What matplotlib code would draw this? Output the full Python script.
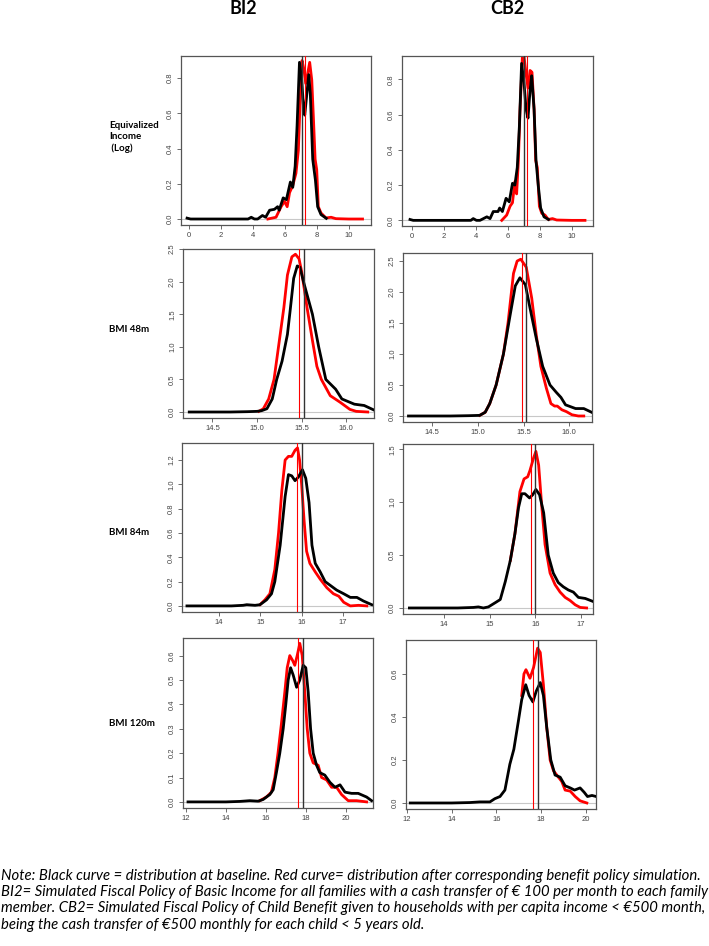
import numpy as np
import matplotlib
matplotlib.use('Agg')
import matplotlib.pyplot as plt

plt.rcParams['font.family'] = ['Lato', 'DejaVu Sans']

# ---- data (x, density) ----
# Equivalized income (log), BI2
inc_bi2_base_x = [-0.12, 0.1, 1, 2, 3, 3.7, 3.9, 4.1, 4.3, 4.6, 4.8, 5.05, 5.35, 5.55, 5.65, 5.9, 6.1, 6.35, 6.5, 6.65, 6.77, 6.92, 7.06, 7.17, 7.25, 7.38, 7.5, 7.6, 7.75, 7.92, 8.06, 8.27, 8.6]
inc_bi2_base_y = [0.005, 0.0, 0.0, 0.0, 0.0, 0.0, 0.01, 0.0, 0.0, 0.02, 0.01, 0.05, 0.055, 0.07, 0.05, 0.12, 0.11, 0.21, 0.18, 0.3, 0.53, 0.89, 0.79, 0.64, 0.59, 0.71, 0.82, 0.71, 0.34, 0.22, 0.07, 0.025, 0.004]
inc_bi2_sim_x = [4.94, 5.45, 5.77, 5.98, 6.15, 6.3, 6.5, 6.7, 6.85, 6.98, 7.08, 7.2, 7.31, 7.44, 7.56, 7.69, 7.8, 7.9, 8.0, 8.1, 8.27, 8.58, 8.9, 9.2, 10, 10.87]
inc_bi2_sim_y = [0.0, 0.01, 0.07, 0.1, 0.07, 0.15, 0.19, 0.26, 0.39, 0.71, 0.9, 0.85, 0.77, 0.83, 0.89, 0.79, 0.56, 0.34, 0.28, 0.07, 0.034, 0.006, 0.01, 0.002, 0.0, 0.0]
# Equivalized income (log), CB2
inc_cb2_base_x = [-0.1, 0.1, 1, 2, 3, 3.7, 3.85, 4.05, 4.27, 4.7, 4.9, 5.1, 5.4, 5.5, 5.67, 5.9, 6.1, 6.3, 6.45, 6.6, 6.73, 6.87, 7.02, 7.15, 7.27, 7.4, 7.5, 7.65, 7.77, 7.92, 8.06, 8.27, 8.55]
inc_cb2_base_y = [0.005, 0.0, 0.0, 0.0, 0.0, 0.0, 0.01, 0.0, 0.0, 0.02, 0.01, 0.05, 0.05, 0.07, 0.05, 0.125, 0.105, 0.21, 0.2, 0.3, 0.53, 0.89, 0.78, 0.63, 0.58, 0.74, 0.82, 0.63, 0.34, 0.19, 0.07, 0.02, 0.005]
inc_cb2_sim_x = [5.63, 5.94, 6.15, 6.3, 6.45, 6.56, 6.67, 6.77, 6.92, 7.02, 7.15, 7.27, 7.4, 7.52, 7.65, 7.75, 7.85, 7.98, 8.13, 8.33, 8.54, 8.8, 9.06, 10, 10.83]
inc_cb2_sim_y = [0.0, 0.03, 0.08, 0.1, 0.22, 0.15, 0.34, 0.62, 0.93, 0.93, 0.83, 0.75, 0.85, 0.84, 0.63, 0.34, 0.3, 0.08, 0.04, 0.03, 0.005, 0.01, 0.002, 0.0, 0.0]

# BMI 48m, BI2
b48_bi2_base_x = [14.24, 14.5, 14.7, 14.89, 15.0, 15.05, 15.11, 15.17, 15.22, 15.28, 15.34, 15.37, 15.41, 15.45, 15.48, 15.52, 15.57, 15.62, 15.69, 15.77, 15.88, 15.95, 16.09, 16.2, 16.31]
b48_bi2_base_y = [0.0, 0.0, 0.0, 0.005, 0.01, 0.02, 0.05, 0.2, 0.5, 0.78, 1.19, 1.55, 2.05, 2.24, 2.22, 2.0, 1.75, 1.5, 1.0, 0.5, 0.35, 0.2, 0.12, 0.1, 0.03]
b48_bi2_sim_x = [15.02, 15.07, 15.13, 15.19, 15.24, 15.3, 15.34, 15.39, 15.43, 15.47, 15.5, 15.56, 15.62, 15.67, 15.72, 15.82, 15.93, 16.04, 16.11, 16.24]
b48_bi2_sim_y = [0.01, 0.05, 0.2, 0.5, 1.0, 1.6, 2.1, 2.38, 2.42, 2.35, 2.15, 1.6, 1.1, 0.7, 0.5, 0.25, 0.15, 0.04, 0.01, 0.0]
# BMI 48m, CB2
b48_cb2_base_x = [14.24, 14.5, 14.7, 14.9, 15.02, 15.08, 15.13, 15.2, 15.28, 15.35, 15.41, 15.46, 15.52, 15.57, 15.64, 15.71, 15.79, 15.86, 15.91, 15.96, 16.07, 16.16, 16.26]
b48_cb2_base_y = [0.0, 0.0, 0.0, 0.005, 0.01, 0.06, 0.2, 0.5, 1.0, 1.6, 2.1, 2.23, 2.12, 1.75, 1.25, 0.8, 0.5, 0.38, 0.3, 0.18, 0.12, 0.12, 0.05]
b48_cb2_sim_x = [15.02, 15.08, 15.13, 15.2, 15.28, 15.33, 15.39, 15.43, 15.47, 15.53, 15.59, 15.64, 15.69, 15.75, 15.8, 15.84, 15.87, 15.92, 15.97, 16.03, 16.1, 16.16]
b48_cb2_sim_y = [0.01, 0.06, 0.2, 0.5, 1.0, 1.5, 2.3, 2.5, 2.53, 2.4, 1.9, 1.3, 0.8, 0.45, 0.2, 0.16, 0.16, 0.1, 0.07, 0.02, 0.0, 0.0]

# BMI 84m, BI2
b84_bi2_base_x = [13.22, 13.8, 14.3, 14.58, 14.67, 14.87, 14.99, 15.15, 15.27, 15.35, 15.48, 15.6, 15.68, 15.76, 15.84, 15.92, 16.02, 16.1, 16.18, 16.25, 16.33, 16.45, 16.57, 16.69, 16.85, 17.02, 17.18, 17.34, 17.5, 17.7]
b84_bi2_base_y = [0.0, 0.0, 0.0, 0.005, 0.01, 0.005, 0.01, 0.05, 0.1, 0.2, 0.5, 0.9, 1.08, 1.07, 1.03, 1.06, 1.12, 1.05, 0.85, 0.5, 0.35, 0.28, 0.2, 0.17, 0.13, 0.1, 0.07, 0.07, 0.04, 0.01]
b84_bi2_sim_x = [14.99, 15.11, 15.23, 15.35, 15.44, 15.52, 15.6, 15.68, 15.76, 15.84, 15.9, 15.95, 16.0, 16.06, 16.12, 16.2, 16.33, 16.45, 16.61, 16.77, 16.9, 17.02, 17.18, 17.38, 17.58]
b84_bi2_sim_y = [0.01, 0.05, 0.1, 0.3, 0.6, 0.95, 1.2, 1.23, 1.23, 1.28, 1.3, 1.2, 1.0, 0.7, 0.45, 0.35, 0.28, 0.22, 0.15, 0.1, 0.08, 0.03, 0.0, 0.005, 0.0]
# BMI 84m, CB2
b84_cb2_base_x = [13.24, 13.8, 14.3, 14.64, 14.75, 14.86, 14.97, 15.12, 15.23, 15.34, 15.45, 15.55, 15.63, 15.7, 15.77, 15.87, 15.94, 16.01, 16.09, 16.18, 16.28, 16.39, 16.5, 16.61, 16.72, 16.83, 16.94, 17.09, 17.27]
b84_cb2_base_y = [0.0, 0.0, 0.0, 0.005, 0.01, 0.0, 0.01, 0.05, 0.08, 0.25, 0.45, 0.7, 0.95, 1.08, 1.08, 1.04, 1.07, 1.12, 1.07, 0.9, 0.5, 0.33, 0.24, 0.2, 0.17, 0.15, 0.1, 0.09, 0.06]
b84_cb2_sim_x = [15.45, 15.55, 15.66, 15.75, 15.83, 15.88, 15.96, 16.01, 16.07, 16.14, 16.21, 16.32, 16.43, 16.54, 16.65, 16.76, 16.87, 16.98, 17.12]
b84_cb2_sim_y = [0.45, 0.7, 1.1, 1.22, 1.24, 1.3, 1.42, 1.48, 1.35, 0.95, 0.6, 0.33, 0.22, 0.15, 0.1, 0.07, 0.03, 0.005, 0.0]

# BMI 120m, BI2
b120_bi2_base_x = [12.1, 13, 14, 14.69, 15.19, 15.61, 15.86, 16.02, 16.19, 16.36, 16.52, 16.69, 16.86, 16.99, 17.11, 17.23, 17.36, 17.53, 17.69, 17.86, 17.99, 18.11, 18.23, 18.36, 18.53, 18.69, 18.94, 19.2, 19.45, 19.7, 19.95, 20.28, 20.61, 21.03, 21.28]
b120_bi2_base_y = [0.0, 0.0, 0.0, 0.002, 0.005, 0.003, 0.01, 0.02, 0.03, 0.05, 0.12, 0.2, 0.3, 0.4, 0.5, 0.55, 0.52, 0.47, 0.5, 0.56, 0.55, 0.45, 0.3, 0.2, 0.15, 0.12, 0.11, 0.08, 0.06, 0.07, 0.04, 0.035, 0.035, 0.02, 0.005]
b120_bi2_sim_x = [15.69, 16.02, 16.27, 16.44, 16.6, 16.77, 16.94, 17.06, 17.19, 17.33, 17.44, 17.56, 17.69, 17.81, 17.94, 18.06, 18.19, 18.36, 18.61, 18.78, 19.03, 19.28, 19.53, 19.78, 20.11, 20.53, 21.03]
b120_bi2_sim_y = [0.005, 0.02, 0.04, 0.1, 0.2, 0.32, 0.45, 0.55, 0.6, 0.58, 0.56, 0.6, 0.65, 0.6, 0.45, 0.3, 0.2, 0.16, 0.15, 0.1, 0.09, 0.06, 0.06, 0.03, 0.005, 0.005, 0.0]
# BMI 120m, CB2
b120_cb2_base_x = [12.15, 13, 14, 14.81, 15.26, 15.71, 15.93, 16.16, 16.38, 16.6, 16.78, 16.98, 17.13, 17.31, 17.46, 17.63, 17.78, 17.96, 18.1, 18.25, 18.43, 18.62, 18.85, 19.07, 19.3, 19.49, 19.74, 19.92, 20.07, 20.27, 20.46]
b120_cb2_base_y = [0.0, 0.0, 0.0, 0.002, 0.005, 0.005, 0.02, 0.03, 0.06, 0.18, 0.25, 0.38, 0.48, 0.55, 0.5, 0.47, 0.52, 0.56, 0.5, 0.35, 0.2, 0.13, 0.12, 0.08, 0.07, 0.06, 0.07, 0.05, 0.03, 0.035, 0.03]
b120_cb2_sim_x = [17.13, 17.23, 17.32, 17.5, 17.66, 17.84, 17.96, 18.1, 18.25, 18.4, 18.55, 18.77, 18.92, 19.07, 19.3, 19.52, 19.74, 20.04]
b120_cb2_sim_y = [0.5, 0.6, 0.62, 0.58, 0.63, 0.72, 0.7, 0.55, 0.35, 0.2, 0.15, 0.12, 0.1, 0.06, 0.055, 0.03, 0.01, 0.0]

# means (vertical lines): baseline, simulation
mean_base = [7.1, 7.02, 15.523, 15.53, 16.0, 16.0, 17.85, 17.86]
mean_sim = [7.27, 7.19, 15.467, 15.486, 15.88, 15.91, 17.58, 17.64]

col_titles = ['BI2', 'CB2']
row_labels = ['Equivalized\nIncome\n (Log)', 'BMI 48m', 'BMI 84m', 'BMI 120m']

curves = [
    (inc_bi2_base_x, inc_bi2_base_y, inc_bi2_sim_x, inc_bi2_sim_y),
    (inc_cb2_base_x, inc_cb2_base_y, inc_cb2_sim_x, inc_cb2_sim_y),
    (b48_bi2_base_x, b48_bi2_base_y, b48_bi2_sim_x, b48_bi2_sim_y),
    (b48_cb2_base_x, b48_cb2_base_y, b48_cb2_sim_x, b48_cb2_sim_y),
    (b84_bi2_base_x, b84_bi2_base_y, b84_bi2_sim_x, b84_bi2_sim_y),
    (b84_cb2_base_x, b84_cb2_base_y, b84_cb2_sim_x, b84_cb2_sim_y),
    (b120_bi2_base_x, b120_bi2_base_y, b120_bi2_sim_x, b120_bi2_sim_y),
    (b120_cb2_base_x, b120_cb2_base_y, b120_cb2_sim_x, b120_cb2_sim_y),
]

# panel boxes in pixels (left, top, right, bottom), limits and ticks
boxes = [(181, 56, 371, 225), (402, 56, 593, 226),
         (183, 249, 374, 418), (403, 253, 592, 422),
         (182, 443, 373, 612), (403, 444, 593, 614),
         (183, 638, 373, 808), (406, 640, 596, 809)]
xlims = [(-0.5, 11.4), (-0.6, 11.33), (14.17, 16.31), (14.18, 16.25),
         (13.1, 17.73), (13.1, 17.26), (11.85, 21.35), (11.96, 20.45)]
ylims = [(-0.034, 0.926), (-0.032, 0.932), (-0.092, 2.5), (-0.097, 2.63),
         (-0.05, 1.34), (-0.057, 1.55), (-0.025, 0.672), (-0.028, 0.758)]
xticks = [[0, 2, 4, 6, 8, 10]] * 2 + [[14.5, 15.0, 15.5, 16.0]] * 2 + [[14, 15, 16, 17]] * 2 + [[12, 14, 16, 18, 20]] * 2
yticks = [[0.0, 0.2, 0.4, 0.6, 0.8]] * 2 + [[0.0, 0.5, 1.0, 1.5, 2.0, 2.5]] * 2 + \
         [[0.0, 0.2, 0.4, 0.6, 0.8, 1.0, 1.2], [0.0, 0.5, 1.0, 1.5]] + \
         [[0.0, 0.1, 0.2, 0.3, 0.4, 0.5, 0.6], [0.0, 0.2, 0.4, 0.6]]
xfmt = ['%d', '%d', '%.1f', '%.1f', '%d', '%d', '%d', '%d']

W, H = 709, 946
fig = plt.figure(figsize=(W / 100, H / 100), dpi=100)

for i, (l, t, r, b) in enumerate(boxes):
    ax = fig.add_axes([l / W, 1 - b / H, (r - l) / W, (b - t) / H])
    bx, by, sx, sy = curves[i]
    ax.axhline(0, color='#c8c8c8', lw=0.8, zorder=1)
    ax.plot(bx, by, color='black', lw=2.0, zorder=3, solid_joinstyle='round')
    ax.plot(sx, sy, color='red', lw=2.0, zorder=2, solid_joinstyle='round')
    ax.axvline(mean_base[i], color='#333333', lw=1.0, zorder=4)
    ax.axvline(mean_sim[i], color='red', lw=0.8, zorder=4)
    ax.set_xlim(*xlims[i])
    ax.set_ylim(*ylims[i])
    ax.set_xticks(xticks[i])
    ax.set_xticklabels([xfmt[i] % v for v in xticks[i]], family='Liberation Sans')
    ax.set_yticks(yticks[i])
    ax.set_yticklabels(['%.1f' % v for v in yticks[i]], rotation=90, va='center',
                       family='Liberation Sans')
    ax.tick_params(labelsize=5.5, length=3, width=0.6, color='#555555',
                   labelcolor='#444444', pad=2)
    for s in ax.spines.values():
        s.set_color('#555555')
        s.set_linewidth(0.9)

for j, t in enumerate(col_titles):
    fig.text([243, 507][j] / W, 1 - 8 / H, t, ha='center', va='center',
             fontsize=13, fontweight='bold')

row_y = [137, 329, 532, 723]
for k, lab in enumerate(row_labels):
    fig.text(109 / W, 1 - row_y[k] / H, lab, ha='left', va='center',
             fontsize=7, fontweight='bold', linespacing=1.25)

note = ("Note: Black curve = distribution at baseline. Red curve= distribution after corresponding benefit policy simulation.\n"
        "BI2= Simulated Fiscal Policy of Basic Income for all families with a cash transfer of € 100 per month to each family\n"
        "member. CB2= Simulated Fiscal Policy of Child Benefit given to households with per capita income < €500 month,\n"
        "being the cash transfer of €500 monthly for each child < 5 years old.")
fig.text(1 / W, 1 - 869 / H, note, ha='left', va='top', fontsize=10.7,
         style='italic', linespacing=1.2)

fig.savefig('out.png', dpi=100)
